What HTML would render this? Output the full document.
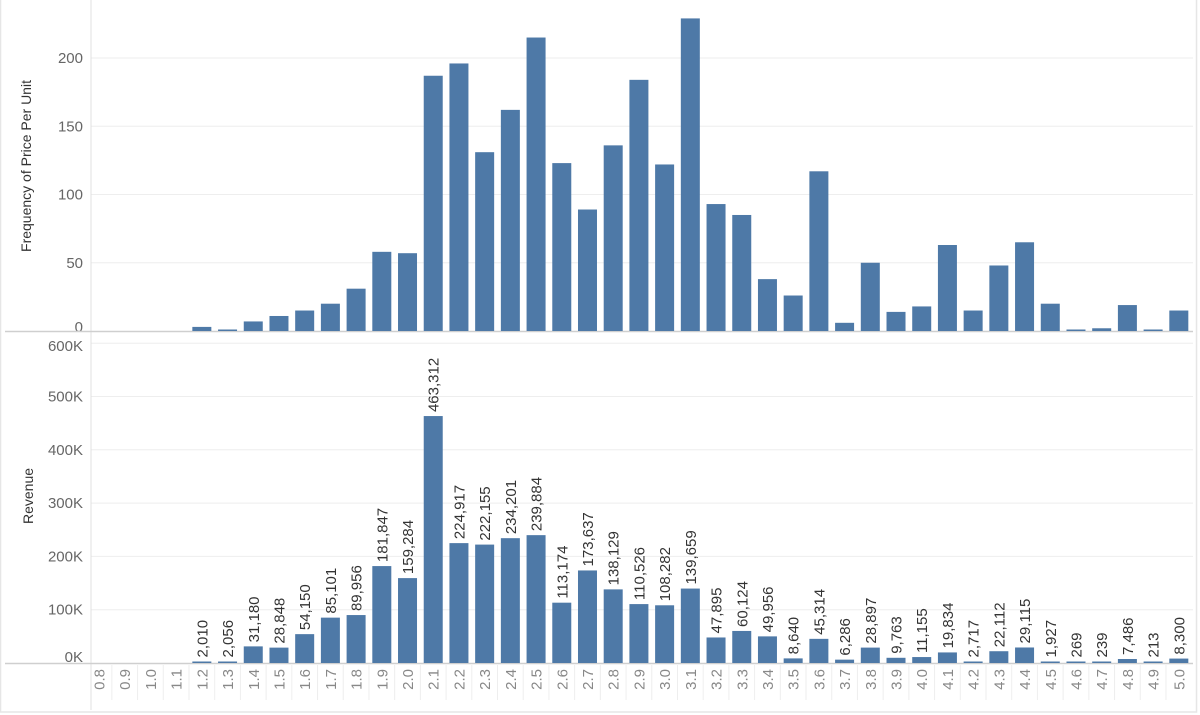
<!DOCTYPE html>
<html><head><meta charset="utf-8"><style>
html,body{margin:0;padding:0;background:#fff;}
svg{display:block;font-family:"Liberation Sans",sans-serif;}
</style></head><body>
<svg id="c" width="1200" height="715" viewBox="0 0 1200 715" xmlns="http://www.w3.org/2000/svg"></svg>
<script>
const cats=[];for(let i=8;i<=50;i++)cats.push((i/10).toFixed(1));
const F=[0,0,0,0,3,1,7,11,15,20,31,58,57,187,196,131,162,215,123,89,136,184,122,229,93,85,38,26,117,6,50,14,18,63,15,48,65,20,1,2,19,1,15];
const RV=[null,null,null,null,2010,2056,31180,28848,54150,85101,89956,181847,159284,463312,224917,222155,234201,239884,113174,173637,138129,110526,108282,139659,47895,60124,49956,8640,45314,6286,28897,9763,11155,19834,2717,22112,29115,1927,269,239,7486,213,8300];
let s='';
const L=91,R=1193,step=25.71,c0=99,bw=19,col='#4e79a7';
s+=`<rect x="0.5" y="-1" width="1196" height="713" fill="none" stroke="#e6e6e6" stroke-width="1.5"/>`;
const t0=331,tk=1.365;
[50,100,150,200].forEach(v=>{const y=t0-v*tk;s+=`<line x1="${L}" x2="${R}" y1="${y}" y2="${y}" stroke="#eeeeee"/>`;});
[0,50,100,150,200].forEach(v=>{let y=t0-v*tk;if(v==0)y-=4;s+=`<text x="83" y="${y+5}" text-anchor="end" font-size="15" fill="#666">${v}</text>`;});
const b0=663,bk=53.3/100000;
[100,200,300,400,500,600].forEach(v=>{const y=b0-v*1000*bk;s+=`<line x1="${L}" x2="${R}" y1="${y}" y2="${y}" stroke="#eeeeee"/>`;});
[0,100,200,300,400,500,600].forEach(v=>{let y=b0-v*1000*bk;if(v==0)y-=6;if(v==600)y+=3;s+=`<text x="83" y="${y+5}" text-anchor="end" font-size="15" fill="#666">${v}K</text>`;});
s+=`<line x1="${L}" x2="${L}" y1="0" y2="710" stroke="#e0e0e0"/>`;
s+=`<line x1="5" x2="${R}" y1="${t0+0.5}" y2="${t0+0.5}" stroke="#cfcfcf" stroke-width="1.5"/>`;
s+=`<line x1="5" x2="${R}" y1="${b0+0.5}" y2="${b0+0.5}" stroke="#cfcfcf" stroke-width="1.5"/>`;
s+=`<text transform="translate(31,166) rotate(-90)" text-anchor="middle" font-size="14" fill="#333">Frequency of Price Per Unit</text>`;
s+=`<text transform="translate(33,496) rotate(-90)" text-anchor="middle" font-size="14" fill="#333">Revenue</text>`;
cats.forEach((c,i)=>{
  const cx=c0+i*step;
  if(i>0)s+=`<line x1="${cx-step/2}" x2="${cx-step/2}" y1="665" y2="700" stroke="#eeeeee"/>`;
  s+=`<text transform="translate(${cx+5.5},669) rotate(-90)" text-anchor="end" font-size="15" fill="#888">${c}</text>`;
  const f=F[i];
  if(f){const h=Math.max(f*tk,1.5);s+=`<rect x="${cx-bw/2}" y="${t0-h}" width="${bw}" height="${h}" fill="${col}"/>`;}
  const r=RV[i];
  if(r!==null){const h=Math.max(r*bk,1.5);s+=`<rect x="${cx-bw/2}" y="${b0-h}" width="${bw}" height="${h}" fill="${col}"/>`;
    s+=`<text transform="translate(${cx+5.5},${b0-h-4}) rotate(-90)" font-size="15" fill="#333">${r.toLocaleString('en-US')}</text>`;}
});
document.getElementById('c').innerHTML=s;
</script>
</body></html>
